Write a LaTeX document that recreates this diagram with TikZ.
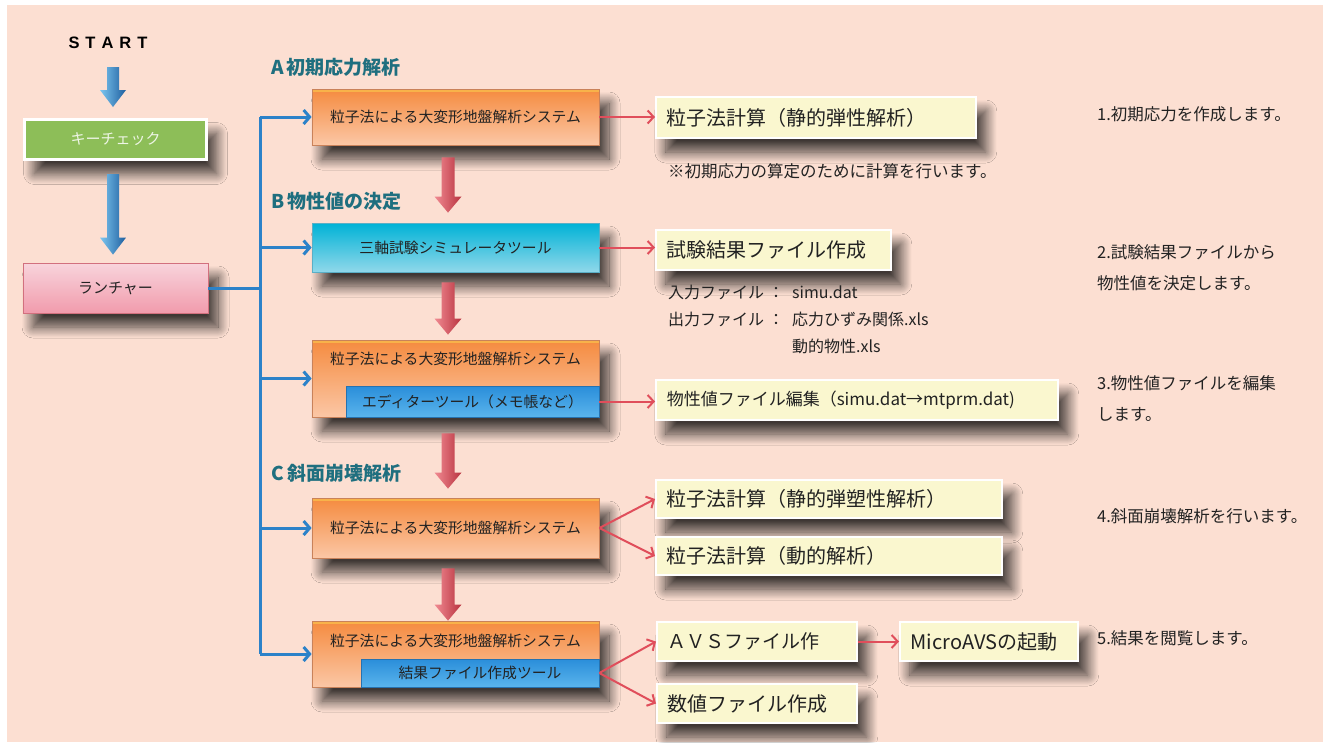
\documentclass[tikz,border=0pt]{standalone}
\usepackage{fontspec}
\setmainfont{Noto Sans CJK JP}
\newfontfamily\startfont{Liberation Sans}
\usetikzlibrary{arrows.meta,shadows.blur,calc}
\definecolor{bgpeach}{HTML}{FCDFD2}
\definecolor{orTop}{HTML}{F8B24A}
\definecolor{orA}{HTML}{F58B3F}
\definecolor{orB}{HTML}{FBC7A6}
\definecolor{orLine}{HTML}{C9825A}
\definecolor{cyA}{HTML}{00B2D6}
\definecolor{cyB}{HTML}{90D8EA}
\definecolor{cyLine}{HTML}{5AAFC6}
\definecolor{blA}{HTML}{2A8EDA}
\definecolor{blB}{HTML}{5AB4EC}
\definecolor{blLine}{HTML}{2672B0}
\definecolor{grn}{HTML}{8DBE58}
\definecolor{grnTxt}{HTML}{EEF5E6}
\definecolor{pkA}{HTML}{F8D4DC}
\definecolor{pkB}{HTML}{F19BAC}
\definecolor{pkLine}{HTML}{D2707E}
\definecolor{yel}{HTML}{FAF7CF}
\definecolor{redc}{HTML}{E04E5B}
\definecolor{redL}{HTML}{F08A92}
\definecolor{redD}{HTML}{B9333F}
\definecolor{bluec}{HTML}{2C82C9}
\definecolor{bluL}{HTML}{7CC6F0}
\definecolor{bluD}{HTML}{1E5E9E}
\definecolor{headc}{HTML}{1F6F7F}
\definecolor{txt}{HTML}{222222}
\newcommand\szbox{\fontsize{14.8}{17}\selectfont}
\newcommand\szyel{\fontsize{20}{24}\selectfont}
\newcommand\szyelS{\fontsize{17}{20}\selectfont}
\newcommand\szright{\fontsize{16.5}{31}\selectfont}
\newcommand\szinfo{\fontsize{16}{27}\selectfont}
\newcommand\szhead{\fontsize{19}{22}\selectfont}
\newcommand\blockdown[8]{%
  \path[left color=#3, middle color=#4, right color=#5] let \p1=#1, \p2=#2 in
  (\x1-#6,\y1) -- (\x1+#6,\y1) -- (\x1+#6,\y2+#8) -- (\x1+#7,\y2+#8) -- (\x1,\y2)
  -- (\x1-#7,\y2+#8) -- (\x1-#6,\y2+#8) -- cycle;}
\tikzset{
  shd/.style={blur shadow={shadow xshift=10pt, shadow yshift=-14pt, shadow blur radius=11pt, shadow blur steps=16, shadow opacity=75, shadow blur extra rounding=0pt}},
  boxbase/.style={shd, inner sep=0pt, text=txt, font=\szbox},
  orbox/.style={boxbase, draw=orLine, line width=0.8pt, top color=orA, bottom color=orB, minimum width=287pt,
    path picture={\fill[orTop] (path picture bounding box.north west) rectangle ([yshift=-3pt]path picture bounding box.north east);}},
  cybox/.style={boxbase, draw=cyLine, line width=0.8pt, top color=cyA, bottom color=cyB, minimum width=287pt},
  blbox/.style={inner sep=0pt, text=txt, font=\szbox, draw=blLine, line width=0.6pt, top color=blA, bottom color=blB},
  btxt/.style={inner sep=0pt, text=txt, font=\szbox},
  gbox/.style={shd, fill=grn, draw=white, line width=3pt, text=grnTxt, font=\fontsize{15}{18}\selectfont, minimum width=182pt, minimum height=40pt, inner sep=0pt},
  pbox/.style={shd, top color=pkA, bottom color=pkB, draw=pkLine, line width=0.8pt, text=txt, font=\fontsize{15}{18}\selectfont, minimum width=185pt, minimum height=50pt, inner sep=0pt},
  ybox/.style={shd, fill=yel, draw=white, line width=1.5pt, inner xsep=11pt, inner ysep=0pt, align=left, text=txt, font=\szyel, anchor=west},
  head/.style={font=\szhead\bfseries, text=headc, anchor=west, inner sep=0pt},
  rtxt/.style={font=\szright, text=txt, anchor=west, inner sep=0pt, align=left},
  startst/.style={font=\fontsize{16.5}{19}\selectfont\startfont\bfseries, text=black, inner sep=0pt},
  rarr/.style={draw=redc, line width=2pt, -{Straight Barb[length=6pt,width=13pt]}},
  bline/.style={draw=bluec, line width=3pt},
  barr/.style={bline, -{Straight Barb[length=6pt,width=14pt]}}
}
\begin{document}
\begin{tikzpicture}[x=1pt,y=-1pt]
\useasboundingbox (0,0) rectangle (1323,742);
\fill[white] (0,0) rectangle (1323,742);
\fill[bgpeach] (7,5) rectangle (1323,742);

% left column
\node[startst] (ST) at (108,43) {S\hspace{6pt}T\hspace{6pt}A\hspace{6pt}R\hspace{6pt}T};
\node[gbox] (K) at (115.5,139.5) {キーチェック};
\node[pbox] (L) at (115.5,288) {ランチャー};

% headings
\node[head] (hA) at (271,67) {A\,初期応力解析};
\node[head] (hB) at (271,201) {B\,物性値の決定};
\node[head] (hC) at (271,473) {C\,斜面崩壊解析};

% main boxes
\node[orbox, minimum height=56pt] (A) at (455.5,117) {粒子法による大変形地盤解析システム};
\node[cybox, minimum height=49pt] (B) at (455.5,247.5) {三軸試験シミュレータツール};
\node[orbox, minimum height=77pt] (C3) at (455.5,378.5) {};
\node[btxt] (C3t) at (455.5,359) {粒子法による大変形地盤解析システム};
\node[blbox, minimum width=253pt, minimum height=31pt] (E3) at (472.5,401.5) {エディターツール（メモ帳など）};
\node[orbox, minimum height=60pt] (C4) at (455.5,528) {粒子法による大変形地盤解析システム};
\node[orbox, minimum height=66pt] (C5) at (455.5,654) {};
\node[btxt] (C5t) at (455.5,641) {粒子法による大変形地盤解析システム};
\node[blbox, minimum width=238pt, minimum height=28pt] (E5) at (480,673) {結果ファイル作成ツール};

% yellow result boxes
\node[ybox, text width=298pt, minimum height=41pt] (Y1) at (655,117.5) {粒子法計算（静的弾性解析）};
\node[ybox, text width=213pt, minimum height=40pt] (Y2) at (655,250) {試験結果ファイル作成};
\node[ybox, font=\szyelS, text width=380pt, minimum height=40pt] (Y3) at (655,400) {物性値ファイル編集（simu.dat→mtprm.dat)};
\node[ybox, text width=324pt, minimum height=38pt] (Y4a) at (655,499) {粒子法計算（静的弾塑性解析）};
\node[ybox, text width=324pt, minimum height=38pt] (Y4b) at (655,556) {粒子法計算（動的解析）};
\node[ybox, font=\fontsize{19}{22}\selectfont, text width=178pt, minimum height=39pt] (Y5a) at (656,641.5) {ＡＶＳファイル作};
\node[ybox, text width=156pt, minimum height=39pt] (Y5b) at (899,641.5) {MicroAVSの起動};
\node[ybox, text width=178pt, minimum height=39pt] (Y5c) at (656,703.5) {数値ファイル作成};

% notes
\node[rtxt, font=\fontsize{16.5}{20}\selectfont] (N1) at (668,171) {※初期応力の算定のために計算を行います。};
\node[rtxt, font=\szinfo] (N2) at (668,320) {\begin{tabular}{@{}l@{\hspace{4pt}}l@{\hspace{8pt}}l@{}}入力ファイル & ： & simu.dat\\ 出力ファイル & ： & 応力ひずみ関係.xls\\ & & 動的物性.xls\end{tabular}};

% right explanations
\node[rtxt] (R1) at (1097,114) {1.初期応力を作成します。};
\node[rtxt] (R2) at (1097,267.5) {2.試験結果ファイルから\\物性値を決定します。};
\node[rtxt] (R3) at (1097,398.5) {3.物性値ファイルを編集\\します。};
\node[rtxt] (R4) at (1097,516) {4.斜面崩壊解析を行います。};
\node[rtxt] (R5) at (1097,638) {5.結果を閲覧します。};

% blue connectors
\coordinate (bus) at (260,0);
\draw[bline] (L.east) -- (L.east -| bus);
\draw[bline] (bus |- A.west) -- (bus |- C5.west);
\foreach \n in {A,B,C3,C4,C5} \draw[barr] (bus |- \n.west) -- (\n.west);

% red connectors
\draw[rarr] (A.east) -- (A.east -| Y1.west);
\draw[rarr] (B.east) -- (B.east -| Y2.west);
\draw[rarr] (E3.east) -- (E3.east -| Y3.west);
\draw[rarr] (C4.east) -- (Y4a.west);
\draw[rarr] (C4.east) -- (Y4b.west);
\draw[rarr] (E5.east) -- (Y5a.west);
\draw[rarr] (E5.east) -- (Y5c.west);
\draw[rarr] (Y5a.east) -- (Y5b.west);

% block arrows (blue)
\blockdown{($(K.north)+(-2.5,-51)$)}{($(K.north)+(-2.5,-11)$)}{bluL}{bluec}{bluD}{6pt}{13pt}{17pt}
\blockdown{($(K.south)+(-2.5,13)$)}{($(L.north)+(-2.5,-8)$)}{bluL}{bluec}{bluD}{6pt}{13pt}{17pt}
% block arrows (red)
\blockdown{($(A.south)+(-7.5,12)$)}{($(B.north)+(-7.5,-10)$)}{redL}{redc}{redD}{6.5pt}{13.5pt}{16pt}
\blockdown{($(B.south)+(-7.5,10)$)}{($(C3.north)+(-7.5,-5)$)}{redL}{redc}{redD}{6.5pt}{13.5pt}{16pt}
\blockdown{($(C3.south)+(-7.5,16)$)}{($(C4.north)+(-7.5,-9)$)}{redL}{redc}{redD}{6.5pt}{13.5pt}{16pt}
\blockdown{($(C4.south)+(-7.5,10)$)}{($(C5.north)+(-7.5,0)$)}{redL}{redc}{redD}{6.5pt}{13.5pt}{16pt}
\end{tikzpicture}
\end{document}
